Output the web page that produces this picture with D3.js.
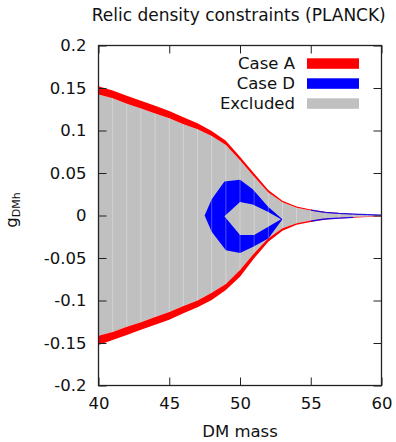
<!DOCTYPE html>
<html>
<head>
<meta charset="utf-8">
<script src="https://cdn.jsdelivr.net/npm/d3@7"></script>
<style>
  html, body { margin: 0; padding: 0; background: #fff; }
  svg { display: block; font-family: "DejaVu Sans", sans-serif; }
</style>
</head>
<body>
<svg id="chart" width="396" height="442"></svg>
<script>
// ---------- data ----------
const mass = [40,41,42,43,44,45,46,47,48,49,50,51,52,53,54,55,56,57,58,59,60];

// Case A band (red): outer edge and inner edge, upper and lower branches
const caseAUpperOuter = [0.152,0.147,0.141,0.135,0.129,0.123,0.1155,0.1085,0.0995,0.088,0.069,0.0495,0.030,0.0175,0.0105,0.0072,0.0044,0.0030,0.0020,0.0012,0.0007];
const excludedUpper   = [0.1425,0.138,0.1315,0.126,0.120,0.1145,0.1075,0.1015,0.0935,0.083,0.065,0.0455,0.027,0.0155,0.0092,0.0058,0.0033,0.0021,0.0014,0.0007,0.0002];
const excludedLower   = [-0.1414,-0.137,-0.131,-0.1255,-0.1195,-0.1135,-0.1065,-0.100,-0.0908,-0.0806,-0.064,-0.0445,-0.0268,-0.015,-0.0092,-0.006,-0.0036,-0.0026,-0.0018,-0.0012,-0.0005];
const caseALowerOuter = [-0.1524,-0.1465,-0.1405,-0.1345,-0.1285,-0.1225,-0.115,-0.108,-0.0994,-0.0876,-0.072,-0.0504,-0.0308,-0.0178,-0.011,-0.0076,-0.0047,-0.0035,-0.0026,-0.0019,-0.0011];

// Case D (blue): closed region with a hole
const caseDOuterMass = [47.5,48.0,48.9,50.0,50.9,52.0,53.0,52.0,50.9,50.0,49.0,48.0];
const caseDOuterG    = [0.0,0.019,0.040,0.042,0.031,0.010,-0.0045,-0.027,-0.037,-0.044,-0.041,-0.019];
const caseDHoleMass  = [48.9,50.0,50.9,52.0,52.9,51.0,50.0];
const caseDHoleG     = [-0.001,0.016,0.013,0.004,-0.0045,-0.023,-0.023];
// Case D thin tail along the edges (m >= 55)
const caseDTailUpperMass = [55,56,57,58,59,60];
const caseDTailUpperG    = [0.0063,0.0037,0.0025,0.0017,0.0010,0.0004];
const caseDTailLowerMass = [55,56,57,58];
const caseDTailLowerG    = [-0.0066,-0.0041,-0.0030,-0.0021];

const xTicks = [40,45,50,55,60];
const yTicks = [-0.2,-0.15,-0.1,-0.05,0,0.05,0.1,0.15,0.2];
const yTickLabels = ["-0.2","-0.15","-0.1","-0.05","0","0.05","0.1","0.15","0.2"];
const legendLabels = ["Case A","Case D","Excluded"];
const legendColors = ["#ff0000","#0000ff","#c0c0c0"];

// ---------- layout ----------
const svg = d3.select("#chart");
const L = 98.5, R = 381.5, T = 45.5, B = 385.5;
const x = d3.scaleLinear().domain([40,60]).range([L,R]);
const y = d3.scaleLinear().domain([-0.2,0.2]).range([B,T]);
const FS = 16.5;

// ---------- marks ----------
const area = d3.area().x(d => x(d.m)).y0(d => y(d.a)).y1(d => y(d.b));
const band = (a, b) => mass.map((m,i) => ({m, a:a[i], b:b[i]}));

// excluded region (grey)
svg.append("path").datum(band(excludedLower, excludedUpper))
  .attr("d", area).attr("fill", "#c0c0c0");

// case A bands (red)
svg.append("path").datum(band(excludedUpper, caseAUpperOuter))
  .attr("d", area).attr("fill", "#ff0000");
svg.append("path").datum(band(caseALowerOuter, excludedLower))
  .attr("d", area).attr("fill", "#ff0000");

// case D region (blue)
const line = d3.line().x(d => x(d[0])).y(d => y(d[1]));
const outerPts = caseDOuterMass.map((m,i) => [m, caseDOuterG[i]]);
const holePts  = caseDHoleMass.map((m,i) => [m, caseDHoleG[i]]);
svg.append("path")
  .attr("d", line(outerPts) + "Z" + line(holePts) + "Z")
  .attr("fill", "#0000ff").attr("fill-rule", "evenodd");

// case D tail
svg.append("path").datum(caseDTailUpperMass.map((m,i) => [m, caseDTailUpperG[i]]))
  .attr("d", line).attr("fill", "none").attr("stroke", "#0000ff").attr("stroke-width", 1.3).attr("stroke-opacity", 0.85);
svg.append("path").datum(caseDTailLowerMass.map((m,i) => [m, caseDTailLowerG[i]]))
  .attr("d", line).attr("fill", "none").attr("stroke", "#0000ff").attr("stroke-width", 1.3).attr("stroke-opacity", 0.85);

// faint strip seams across the excluded region
svg.append("g").selectAll("line")
  .data(mass.filter(m => m > 40 && m < 60))
  .join("line")
  .attr("x1", m => x(m)).attr("x2", m => x(m))
  .attr("y1", m => y(excludedLower[mass.indexOf(m)]))
  .attr("y2", m => y(excludedUpper[mass.indexOf(m)]))
  .attr("stroke", "#ffffff").attr("stroke-opacity", 0.3).attr("stroke-width", 1);

// ---------- axes ----------
const styleAxis = g => {
  g.select(".domain").remove();
  g.selectAll("line").attr("stroke", "#222").attr("stroke-width", 1);
  g.selectAll("text").attr("font-family", "DejaVu Sans").attr("font-size", FS).attr("fill", "#111");
};
svg.append("g").attr("transform", `translate(0,${B})`)
  .call(d3.axisBottom(x).tickValues(xTicks).tickFormat(d3.format("d")).tickSizeInner(-8).tickSizeOuter(0).tickPadding(12))
  .call(styleAxis);
svg.append("g").attr("transform", `translate(0,${T})`)
  .call(d3.axisTop(x).tickValues(xTicks).tickFormat("").tickSizeInner(-8).tickSizeOuter(0))
  .call(styleAxis);
svg.append("g").attr("transform", `translate(${L},0)`)
  .call(d3.axisLeft(y).tickValues(yTicks).tickFormat((d,i) => yTickLabels[i]).tickSizeInner(-8).tickSizeOuter(0).tickPadding(12))
  .call(styleAxis);
svg.append("g").attr("transform", `translate(${R},0)`)
  .call(d3.axisRight(y).tickValues(yTicks).tickFormat("").tickSizeInner(-8).tickSizeOuter(0))
  .call(styleAxis);

// frame
svg.append("rect").attr("x", L).attr("y", T).attr("width", R-L).attr("height", B-T)
  .attr("fill", "none").attr("stroke", "#222").attr("stroke-width", 1.3);

// ---------- legend ----------
const leg = svg.append("g").selectAll("g").data(legendLabels).join("g")
  .attr("transform", (d,i) => `translate(0,${69 + i*20})`);
leg.append("text").attr("x", 295).attr("y", 0).attr("text-anchor", "end")
  .attr("font-size", FS).attr("fill", "#111").text(d => d);
leg.append("rect").attr("x", 307).attr("y", -10.7).attr("width", 52).attr("height", 10.5)
  .attr("fill", (d,i) => legendColors[i]);

// ---------- titles ----------
svg.append("text").attr("x", 91.7).attr("y", 20.7).attr("font-size", 17).attr("fill", "#111")
  .text("Relic density constraints (PLANCK)");
svg.append("text").attr("x", (L+R)/2).attr("y", 437).attr("text-anchor", "middle")
  .attr("font-size", FS).attr("fill", "#111").text("DM mass");
const yl = svg.append("text").attr("transform", "translate(16.5,210) rotate(-90)")
  .attr("text-anchor", "middle").attr("font-size", FS).attr("fill", "#111");
yl.append("tspan").text("g");
yl.append("tspan").attr("font-size", 11).attr("dy", 3).text("DMh");
</script>
</body>
</html>
